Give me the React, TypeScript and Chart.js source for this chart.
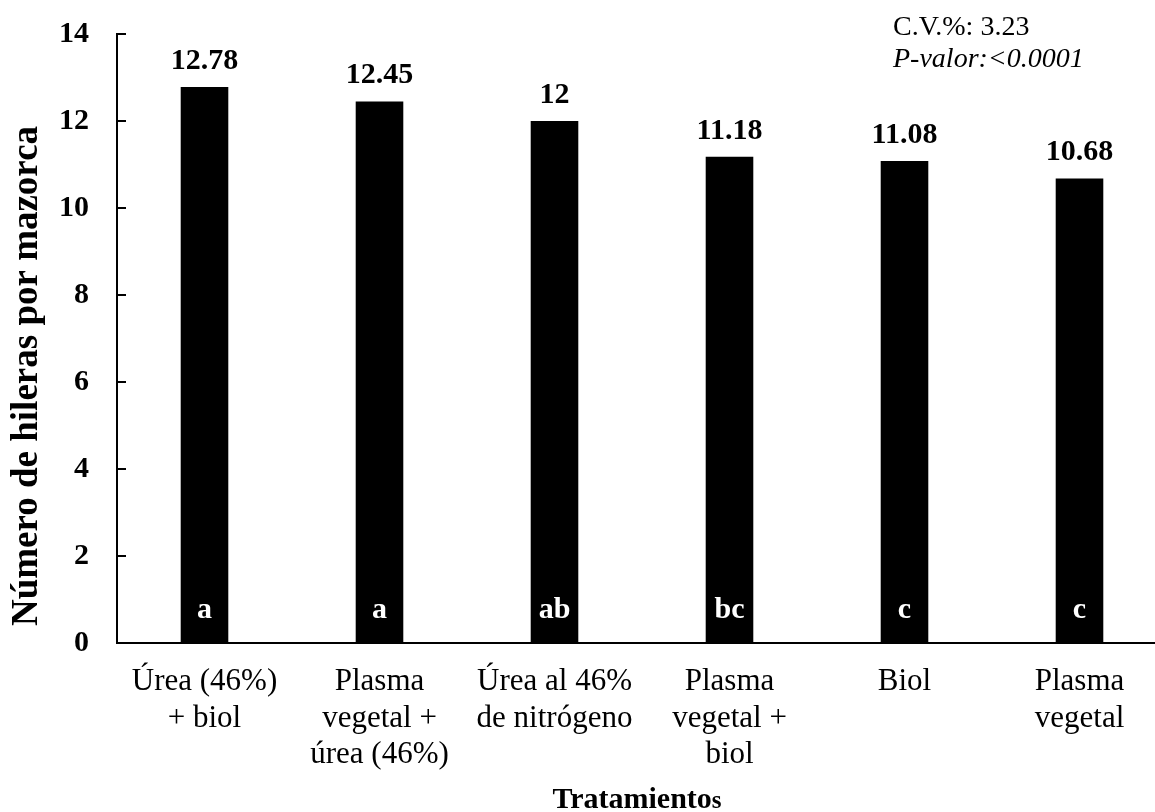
import React, { useEffect, useRef } from "react";
import { Chart, registerables } from "chart.js";

Chart.register(...registerables);

const categories: string[][] = [
  ["Úrea (46%)", "+ biol"],
  ["Plasma", "vegetal +", "úrea (46%)"],
  ["Úrea al 46%", "de nitrógeno"],
  ["Plasma", "vegetal +", "biol"],
  ["Biol"],
  ["Plasma", "vegetal"],
];
const values = [12.78, 12.45, 12, 11.18, 11.08, 10.68];
const valueLabels = ["12.78", "12.45", "12", "11.18", "11.08", "10.68"];
const groupLetters = ["a", "a", "ab", "bc", "c", "c"];
const yTicks = [0, 2, 4, 6, 8, 10, 12, 14];
const cvText = "C.V.%: 3.23";
const pText = "P-valor:<0.0001";
const yTitle = "Número de hileras por mazorca";
const xTitleMain = "Tratamiento";
const xTitleTail = "s";

const FONT = "'Liberation Serif', 'Times New Roman', serif";

const annotations = {
  id: "annotations",
  afterDatasetsDraw(chart: any) {
    const ctx = chart.ctx;
    const area = chart.chartArea;
    const yScale = chart.scales.y;
    const meta = chart.getDatasetMeta(0);
    ctx.save();
    // inward ticks on y axis
    ctx.strokeStyle = "#000";
    ctx.lineWidth = 2;
    yTicks.forEach((v) => {
      const y = Math.round(yScale.getPixelForValue(v));
      ctx.beginPath();
      ctx.moveTo(area.left, y);
      ctx.lineTo(area.left + 9, y);
      ctx.stroke();
    });
    // value labels above bars
    ctx.fillStyle = "#000";
    ctx.font = `bold 30px ${FONT}`;
    ctx.textAlign = "center";
    ctx.textBaseline = "alphabetic";
    meta.data.forEach((el: any, i: number) => {
      ctx.fillText(valueLabels[i], el.x, el.y - 18);
    });
    // letters inside bars
    ctx.fillStyle = "#fff";
    const y0 = yScale.getPixelForValue(0);
    meta.data.forEach((el: any, i: number) => {
      ctx.fillText(groupLetters[i], el.x, y0 - 25);
    });
    // y title
    ctx.fillStyle = "#000";
    ctx.font = `bold 37px ${FONT}`;
    ctx.save();
    ctx.translate(37, 376);
    ctx.rotate(-Math.PI / 2);
    ctx.fillText(yTitle, 0, 0);
    ctx.restore();
    // x title
    ctx.font = `bold 30px ${FONT}`;
    const wMain = ctx.measureText(xTitleMain).width;
    ctx.font = `bold 25px ${FONT}`;
    const wTail = ctx.measureText(xTitleTail).width;
    const startX = 637 - (wMain + wTail) / 2;
    ctx.textAlign = "left";
    ctx.font = `bold 30px ${FONT}`;
    ctx.fillText(xTitleMain, startX, 808);
    ctx.font = `bold 25px ${FONT}`;
    ctx.fillText(xTitleTail, startX + wMain, 808);
    // stats
    ctx.font = `28px ${FONT}`;
    ctx.fillText(cvText, 893, 35);
    ctx.font = `italic 28px ${FONT}`;
    ctx.fillText(pText, 893, 67);
    ctx.restore();
  },
};

export default function App() {
  const ref = useRef<HTMLCanvasElement | null>(null);
  useEffect(() => {
    if (!ref.current) return;
    const chart = new Chart(ref.current, {
      type: "bar",
      data: {
        labels: categories,
        datasets: [
          {
            data: values,
            backgroundColor: "#000",
            borderWidth: 0,
            categoryPercentage: 1,
            barPercentage: 0.272,
          },
        ],
      },
      options: {
        responsive: false,
        animation: false,
        layout: { padding: { left: 0, top: 34, right: 3, bottom: 0 } },
        plugins: { legend: { display: false }, tooltip: { enabled: false } },
        scales: {
          x: {
            grid: { display: false, drawTicks: false },
            border: { display: true, color: "#000", width: 2 },
            ticks: {
              color: "#000",
              font: { family: FONT, size: 31, lineHeight: 1.17 },
              padding: 21,
              maxRotation: 0,
              minRotation: 0,
              autoSkip: false,
            },
            afterFit: (scale: any) => {
              scale.height = 169;
              scale.paddingLeft = 0;
              scale.paddingRight = 0;
            },
          },
          y: {
            min: 0,
            max: 14,
            grid: { display: false, drawTicks: false },
            border: { display: true, color: "#000", width: 2 },
            ticks: {
              stepSize: 2,
              color: "#000",
              font: { family: FONT, size: 30, weight: "bold" },
              padding: 28,
            },
            afterFit: (scale: any) => {
              scale.width = 117;
              scale.paddingTop = 0;
              scale.paddingBottom = 0;
            },
          },
        },
      },
      plugins: [annotations],
    });
    return () => chart.destroy();
  }, []);
  return (
    <div
      style={{
        position: "fixed",
        left: 0,
        top: 0,
        width: 1155,
        height: 812,
        overflow: "hidden",
        background: "#fff",
      }}
    >
      <canvas ref={ref} width={1170} height={812} style={{ display: "block" }} />
    </div>
  );
}
